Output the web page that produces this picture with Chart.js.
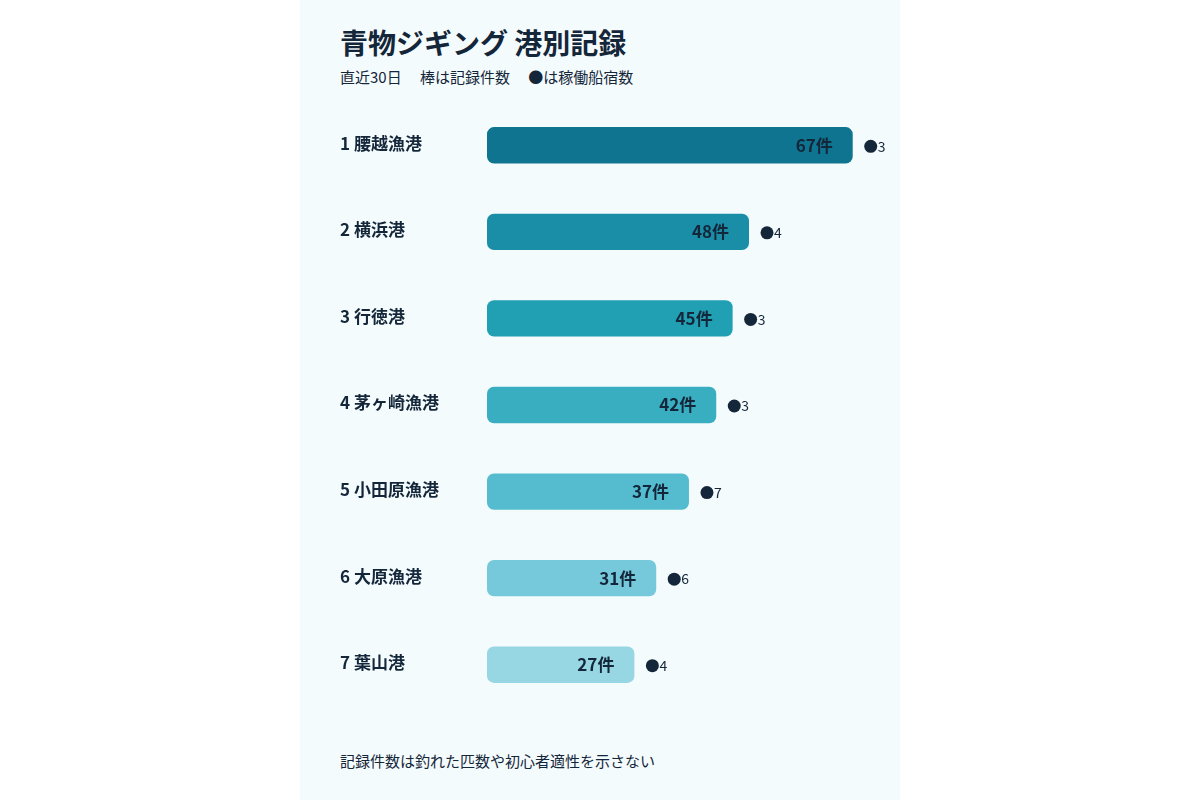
<!DOCTYPE html>
<html>
<head>
<meta charset="utf-8">
<script src="https://cdn.jsdelivr.net/npm/chart.js@4"></script>
<style>
  body { margin: 0; background: #ffffff; font-family: "Noto Sans CJK JP", "Noto Sans", sans-serif; }
  #card { position: absolute; left: 300px; top: 0; width: 600px; height: 800px; background: #f4fbfc; color: #14263a; }
  h1 { position: absolute; left: 40px; top: 22px; margin: 0; font-size: 28px; font-weight: 700; }
  .sub { position: absolute; left: 40px; top: 66px; font-size: 15px; }
  .note { position: absolute; left: 40px; top: 750px; font-size: 15px; }
  #wrap { position: absolute; left: 0; top: 100px; width: 600px; height: 610px; }
</style>
</head>
<body>
<div id="card">
  <h1>青物ジギング 港別記録</h1>
  <div class="sub">直近30日　 棒は記録件数　 ●は稼働船宿数</div>
  <div id="wrap"><canvas id="myChart"></canvas></div>
  <div class="note">記録件数は釣れた匹数や初心者適性を示さない</div>
</div>
<script>
const ports = ["1 腰越漁港", "2 横浜港", "3 行徳港", "4 茅ヶ崎漁港", "5 小田原漁港", "6 大原漁港", "7 葉山港"];
const records = [67, 48, 45, 42, 37, 31, 27];
const boats = [3, 4, 3, 3, 7, 6, 4];
const barColors = ["#0e7490", "#1a8ea6", "#219fb3", "#3aaec1", "#55bcd0", "#75c9da", "#97d7e3"];

const labelPlugin = {
  id: "labels",
  afterDatasetsDraw(chart) {
    const ctx = chart.ctx;
    const meta = chart.getDatasetMeta(0);
    ctx.save();
    ctx.textBaseline = "middle";
    meta.data.forEach((bar, i) => {
      ctx.fillStyle = "#14263a";
      ctx.font = "bold 17px 'Noto Sans CJK JP'";
      ctx.textAlign = "left";
      ctx.fillText(ports[i], 40, bar.y - 2);
      ctx.textAlign = "right";
      ctx.fillText(records[i] + "件", bar.x - 20, bar.y);
      ctx.beginPath();
      ctx.arc(bar.x + 18, bar.y + 1, 6.5, 0, Math.PI * 2);
      ctx.fill();
      ctx.font = "14px 'Noto Sans CJK JP'";
      ctx.textAlign = "left";
      ctx.fillText(boats[i], bar.x + 25, bar.y + 1);
    });
    ctx.restore();
  }
};

new Chart(document.getElementById("myChart"), {
  type: "bar",
  data: {
    labels: ports,
    datasets: [{
      data: records,
      backgroundColor: barColors,
      borderRadius: 7,
      borderSkipped: false,
      barPercentage: 0.42,
      categoryPercentage: 1
    }]
  },
  options: {
    indexAxis: "y",
    responsive: true,
    maintainAspectRatio: false,
    animation: false,
    layout: { padding: { left: 187, right: 20, top: 2, bottom: 2 } },
    plugins: { legend: { display: false }, tooltip: { enabled: false } },
    scales: {
      x: { min: 0, max: 72, display: false },
      y: { display: false }
    }
  },
  plugins: [labelPlugin]
});
</script>
</body>
</html>
